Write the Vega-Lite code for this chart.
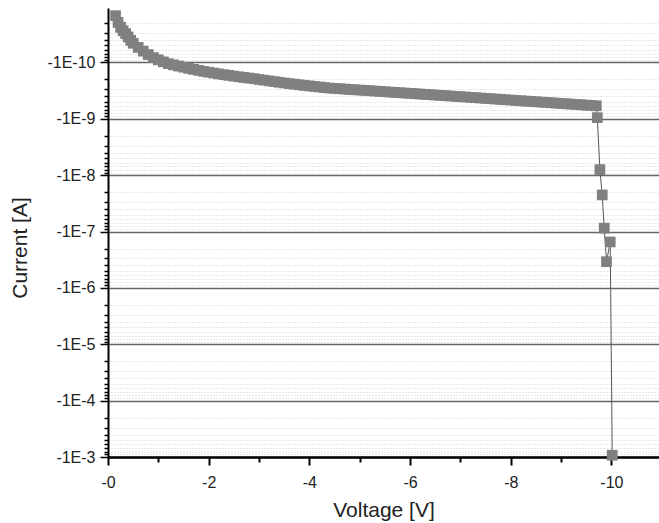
{
  "$schema": "https://vega.github.io/schema/vega-lite/v6.json",
  "width": 551,
  "height": 449,
  "autosize": "none",
  "padding": {"left": 108, "top": 8, "right": 0, "bottom": 66},
  "background": "white",
  "config": {"view": {"stroke": null}, "font": "Liberation Sans"},
  "data": {"values": [
    {"V": -0.15, "I": -1.48e-11},
    {"V": -0.2, "I": -1.95e-11},
    {"V": -0.25, "I": -2.38e-11},
    {"V": -0.3, "I": -2.73e-11},
    {"V": -0.35, "I": -3.08e-11},
    {"V": -0.4, "I": -3.52e-11},
    {"V": -0.45, "I": -4.05e-11},
    {"V": -0.5, "I": -4.56e-11},
    {"V": -0.6, "I": -5.41e-11},
    {"V": -0.7, "I": -6.30e-11},
    {"V": -0.8, "I": -7.24e-11},
    {"V": -0.9, "I": -8.18e-11},
    {"V": -1.0, "I": -8.99e-11},
    {"V": -1.1, "I": -9.76e-11},
    {"V": -1.2, "I": -1.050e-10},
    {"V": -1.3, "I": -1.103e-10},
    {"V": -1.4, "I": -1.159e-10},
    {"V": -1.5, "I": -1.212e-10},
    {"V": -1.6, "I": -1.273e-10},
    {"V": -1.7, "I": -1.326e-10},
    {"V": -1.8, "I": -1.381e-10},
    {"V": -1.9, "I": -1.439e-10},
    {"V": -2.0, "I": -1.491e-10},
    {"V": -2.1, "I": -1.543e-10},
    {"V": -2.2, "I": -1.594e-10},
    {"V": -2.3, "I": -1.647e-10},
    {"V": -2.4, "I": -1.695e-10},
    {"V": -2.5, "I": -1.748e-10},
    {"V": -2.6, "I": -1.795e-10},
    {"V": -2.7, "I": -1.847e-10},
    {"V": -2.8, "I": -1.893e-10},
    {"V": -2.9, "I": -1.940e-10},
    {"V": -3.0, "I": -2.004e-10},
    {"V": -3.1, "I": -2.062e-10},
    {"V": -3.2, "I": -2.122e-10},
    {"V": -3.3, "I": -2.184e-10},
    {"V": -3.4, "I": -2.248e-10},
    {"V": -3.5, "I": -2.309e-10},
    {"V": -3.6, "I": -2.371e-10},
    {"V": -3.7, "I": -2.430e-10},
    {"V": -3.8, "I": -2.491e-10},
    {"V": -3.9, "I": -2.553e-10},
    {"V": -4.0, "I": -2.605e-10},
    {"V": -4.1, "I": -2.670e-10},
    {"V": -4.2, "I": -2.724e-10},
    {"V": -4.3, "I": -2.791e-10},
    {"V": -4.4, "I": -2.849e-10},
    {"V": -4.5, "I": -2.888e-10},
    {"V": -4.6, "I": -2.927e-10},
    {"V": -4.7, "I": -2.967e-10},
    {"V": -4.8, "I": -3.007e-10},
    {"V": -4.9, "I": -3.048e-10},
    {"V": -5.0, "I": -3.089e-10},
    {"V": -5.1, "I": -3.131e-10},
    {"V": -5.2, "I": -3.174e-10},
    {"V": -5.3, "I": -3.217e-10},
    {"V": -5.4, "I": -3.261e-10},
    {"V": -5.5, "I": -3.305e-10},
    {"V": -5.6, "I": -3.350e-10},
    {"V": -5.7, "I": -3.396e-10},
    {"V": -5.8, "I": -3.442e-10},
    {"V": -5.9, "I": -3.489e-10},
    {"V": -6.0, "I": -3.536e-10},
    {"V": -6.1, "I": -3.584e-10},
    {"V": -6.2, "I": -3.633e-10},
    {"V": -6.3, "I": -3.682e-10},
    {"V": -6.4, "I": -3.732e-10},
    {"V": -6.5, "I": -3.783e-10},
    {"V": -6.6, "I": -3.834e-10},
    {"V": -6.7, "I": -3.886e-10},
    {"V": -6.8, "I": -3.939e-10},
    {"V": -6.9, "I": -3.993e-10},
    {"V": -7.0, "I": -4.047e-10},
    {"V": -7.1, "I": -4.103e-10},
    {"V": -7.2, "I": -4.160e-10},
    {"V": -7.3, "I": -4.218e-10},
    {"V": -7.4, "I": -4.277e-10},
    {"V": -7.5, "I": -4.336e-10},
    {"V": -7.6, "I": -4.397e-10},
    {"V": -7.7, "I": -4.458e-10},
    {"V": -7.8, "I": -4.520e-10},
    {"V": -7.9, "I": -4.583e-10},
    {"V": -8.0, "I": -4.647e-10},
    {"V": -8.1, "I": -4.712e-10},
    {"V": -8.2, "I": -4.777e-10},
    {"V": -8.3, "I": -4.844e-10},
    {"V": -8.4, "I": -4.911e-10},
    {"V": -8.5, "I": -4.980e-10},
    {"V": -8.6, "I": -5.049e-10},
    {"V": -8.7, "I": -5.119e-10},
    {"V": -8.8, "I": -5.191e-10},
    {"V": -8.9, "I": -5.263e-10},
    {"V": -9.0, "I": -5.336e-10},
    {"V": -9.1, "I": -5.411e-10},
    {"V": -9.2, "I": -5.486e-10},
    {"V": -9.3, "I": -5.563e-10},
    {"V": -9.4, "I": -5.640e-10},
    {"V": -9.5, "I": -5.719e-10},
    {"V": -9.6, "I": -5.798e-10},
    {"V": -9.7, "I": -5.879e-10},
    {"V": -9.72, "I": -9.53e-10},
    {"V": -9.771, "I": -7.96e-9},
    {"V": -9.817, "I": -2.24e-8},
    {"V": -9.857, "I": -8.71e-8},
    {"V": -9.903, "I": -3.43e-7},
    {"V": -9.976, "I": -1.53e-7},
    {"V": -10.016, "I": -9.3e-4}
  ]},
  "encoding": {
    "x": {
      "field": "V", "type": "quantitative",
      "scale": {"domain": [0, -10.945], "nice": false, "zero": false},
      "axis": {
        "values": [0, -1, -2, -3, -4, -5, -6, -7, -8, -9, -10],
        "grid": false,
        "domainColor": "#000", "domainWidth": 2.5,
        "tickColor": "#000", "tickWidth": 2,
        "tickSize": {"condition": {"test": "datum.value % 2 == 0", "value": 8}, "value": 5},
        "labelExpr": "datum.value % 2 == 0 ? '-' + abs(datum.value) : ''",
        "labelFontSize": 16, "labelColor": "#222", "labelPadding": 9,
        "labelFlush": false, "labelOverlap": false, "labelBound": false,
        "title": "Voltage [V]", "titleFontSize": 21, "titleFontWeight": "normal", "titleColor": "#222",
        "titleBaseline": "alphabetic", "titleY": 59
      }
    },
    "y": {
      "field": "I", "type": "quantitative",
      "scale": {"type": "log", "domain": [-0.001, -1.081e-11], "nice": false},
      "axis": {
        "values": [-1e-3, -9e-4, -8e-4, -7e-4, -6e-4, -5e-4, -4e-4, -3e-4, -2e-4,
                   -1e-4, -9e-5, -8e-5, -7e-5, -6e-5, -5e-5, -4e-5, -3e-5, -2e-5,
                   -1e-5, -9e-6, -8e-6, -7e-6, -6e-6, -5e-6, -4e-6, -3e-6, -2e-6,
                   -1e-6, -9e-7, -8e-7, -7e-7, -6e-7, -5e-7, -4e-7, -3e-7, -2e-7,
                   -1e-7, -9e-8, -8e-8, -7e-8, -6e-8, -5e-8, -4e-8, -3e-8, -2e-8,
                   -1e-8, -9e-9, -8e-9, -7e-9, -6e-9, -5e-9, -4e-9, -3e-9, -2e-9,
                   -1e-9, -9e-10, -8e-10, -7e-10, -6e-10, -5e-10, -4e-10, -3e-10, -2e-10,
                   -1e-10, -9e-11, -8e-11, -7e-11, -6e-11, -5e-11, -4e-11, -3e-11, -2e-11],
        "grid": true,
        "gridColor": {"condition": {"test": "abs(log(-datum.value)/LN10 - round(log(-datum.value)/LN10)) < 0.01", "value": "#666666"}, "value": "#d2d2d2"},
        "gridDash": {"condition": {"test": "abs(log(-datum.value)/LN10 - round(log(-datum.value)/LN10)) < 0.01", "value": [1, 0]}, "value": [1, 2]},
        "gridWidth": {"condition": {"test": "abs(log(-datum.value)/LN10 - round(log(-datum.value)/LN10)) < 0.01", "value": 1.3}, "value": 1},
        "domainColor": "#000", "domainWidth": 2,
        "tickColor": "#000", "tickWidth": 1.5,
        "tickSize": {"condition": {"test": "abs(log(-datum.value)/LN10 - round(log(-datum.value)/LN10)) < 0.01", "value": 8}, "value": 4},
        "labelExpr": "abs(log(-datum.value)/LN10 - round(log(-datum.value)/LN10)) < 0.01 ? '-1E' + round(log(-datum.value)/LN10) : ''",
        "labelFontSize": 16, "labelColor": "#222", "labelPadding": 5,
        "labelOverlap": false, "labelBound": false, "labelFlush": false,
        "title": "Current [A]", "titleFontSize": 21, "titleFontWeight": "normal", "titleColor": "#222",
        "titleBaseline": "alphabetic", "titleX": -81.6, "titleY": 239.5, "titleAngle": -90, "titleAlign": "center"
      }
    }
  },
  "layer": [
    {"mark": {"type": "line", "color": "#555555", "strokeWidth": 1}},
    {"mark": {"type": "point", "shape": "square", "filled": true, "size": 115, "color": "#808080", "opacity": 1}}
  ]
}
